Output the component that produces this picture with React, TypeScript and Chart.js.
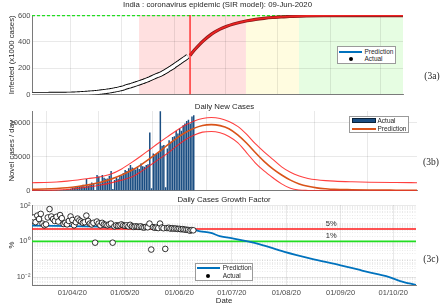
import React, { useEffect, useRef } from "react";
import { Chart, registerables } from "chart.js";

Chart.register(...registerables);

// ---------------- shared x axis: day number (day 0 = 01-Mar-2020) ----------------
const xMinDay = 8;
const xMaxDay = 227;
const monthTickDays = [31, 61, 92, 122, 153, 184, 214];
const monthTickLabels = ["01/04/20", "01/05/20", "01/06/20", "01/07/20", "01/08/20", "01/09/20", "01/10/20"];

// ---------------- (3a) cumulative infected (x1000) ----------------
const actualStartDay = 8;
const infectedActual = [
  0.04, 0.05, 0.06, 0.07, 0.08, 0.1, 0.11, 0.12, 0.14, 0.17,
  0.2, 0.25, 0.33, 0.4, 0.5, 0.56, 0.65, 0.73, 0.9, 1.0,
  1.2, 1.4, 1.6, 2.0, 2.5, 3.0, 3.6, 4.3, 5.0, 5.9,
  6.7, 7.6, 8.4, 9.2, 10.4, 11.4, 12.4, 13.4, 14.8, 16.2,
  17.8, 19.4, 20.9, 22.6, 24.3, 26.2, 28.1, 30.5, 32.8, 35.2,
  37.6, 40.5, 43.6, 46.5, 50.0, 55.0, 59.5, 63.0, 66.5, 70.5,
  74.5, 79.0, 83.5, 88.0, 92.0, 96.5, 101, 106, 111, 116,
  122, 128, 134, 140, 146, 150, 155, 162, 170, 177,
  185, 193, 201, 209, 218, 228, 236, 245, 254, 263,
  272, 281, 290,
];
const infectedPredDays = [101.3, 104, 107, 110, 113, 116, 119, 123, 127, 131, 135, 140, 145, 150, 155, 160, 170, 180, 200, 227];
const infectedPredValues = [297, 340, 382, 418, 450, 476, 498, 520, 537, 550, 561, 572, 580, 586, 590, 594, 598, 600, 601, 601];
const saturationLevel = 600;
const forecastStartDay = 101.3;
const phaseBoundaryDays = [71.2, 134.3, 165.6, 227];
const infectedTicks = [0, 200, 400, 600];

// ---------------- (3b) daily new cases ----------------
const dailyActual = [
  3, 5, 12, 16, 10, 12, 7, 22, 10, 23,
  28, 40, 60, 80, 90, 70, 100, 90, 150, 120,
  190, 220, 300, 420, 480, 530, 620, 700, 650, 880,
  600, 1700, 700, 900, 1200, 1000, 120, 2300, 2100, 1100,
  2300, 1900, 1750, 1800, 2200, 2880, 250, 1560, 1900, 1750,
  2300, 2200, 2600, 3030, 2900, 3300, 3760, 3400, 3270, 3100,
  3500, 3200, 4000, 3600, 3500, 3760, 3900, 8540, 350, 5470,
  5300, 5470, 5600, 11650, 6600, 6700, 500, 6200, 7400, 7200,
  7900, 8000, 8770, 8400, 9120, 8800, 9600, 9850, 10230, 10430,
  9850, 10900, 11070,
];
const dailyPredDays = [8, 15, 22, 28, 34, 40, 47, 53, 59, 65, 70, 75, 80, 85, 90, 95, 100, 105, 110, 115, 120, 125, 130, 135, 140, 145, 150, 155, 160, 165, 170, 175, 180, 190, 200, 215, 227];
const dailyPredMid = [200, 250, 330, 440, 620, 850, 1230, 1700, 2300, 3030, 3800, 4700, 5650, 6680, 7650, 8500, 9150, 9580, 9700, 9550, 9100, 8200, 7000, 5600, 4300, 3200, 2300, 1550, 1000, 640, 420, 290, 200, 140, 100, 75, 60];
const dailyPredUpper = [1170, 1200, 1270, 1400, 1570, 1780, 2050, 2450, 3200, 4200, 5100, 6050, 7000, 7900, 8800, 9600, 10200, 10600, 10750, 10600, 10150, 9450, 8300, 6900, 5700, 4600, 3500, 2700, 2150, 1800, 1600, 1480, 1400, 1310, 1250, 1200, 1170];
const dailyPredLower = [20, 40, 90, 180, 330, 540, 830, 1150, 1550, 2050, 2800, 3700, 4600, 5470, 6500, 7450, 8150, 8600, 8700, 8500, 7950, 7050, 5600, 4100, 2900, 1900, 1000, 350, 100, 40, 20, 10, 5, 0, 0, 0, 0];
const dailyTicks = [0, 5000, 10000];

// ---------------- (3c) daily growth factor (%) ----------------
const growthActual = [
  15, 22, 12, 28, 18, 35, 10, 8, 9, 22,
  65, 25, 18, 14, 24, 13, 30, 20, 9.5, 11,
  9, 14, 25, 16, 8, 12, 19, 15, 13, 11,
  12, 28, 14, 10, 9, 11, 0.85, 13, 10, 8,
  11, 9, 8.5, 8, 9, 10, 0.85, 7, 8, 7.5,
  8, 9, 8, 7.5, 8, 7, 8.5, 7, 6.5, 7,
  6.8, 6.5, 7, 6.2, 6.0, 6.5, 6.2, 10, 0.35, 6.3,
  5.8, 6, 5.6, 10, 6, 5.5, 0.38, 5.6, 5.8, 5.2,
  5.5, 5.2, 5.3, 5.0, 5.1, 4.8, 4.9, 4.6, 4.5, 4.4,
  4.0, 4.3, 4.2,
];
const growthPredDays = [8, 47, 75, 95, 100, 104, 110, 115, 123, 131, 138, 152, 167, 184, 195, 201, 205, 210, 218, 227];
const growthPredValues = [7.7, 6.8, 6.0, 5.0, 4.5, 3.7, 3.0, 2.0, 1.45, 1.0, 0.68, 0.26, 0.11, 0.046, 0.025, 0.018, 0.0146, 0.0114, 0.006, 0.0036];
const growthThresholds = [5, 1];
const growthThresholdLabels = ["5%", "1%"];
const thresholdLabelDay = 178.6;
const growthTicks = [0.01, 1, 100];
const growthTickLabels = ["10\u207B\u00B2", "10\u2070", "10\u00B2"];

// ---------------- styles ----------------
const FONT = "'Liberation Sans', Arial, Helvetica, sans-serif";
const SERIF = "'Liberation Serif', 'Times New Roman', serif";
const TICK_COLOR = "#4a4a4a";
const TEXT_COLOR = "#262626";
const GRID_COLOR = "rgba(0,0,0,0.11)";
const AXIS_COLOR = "#7a7a7a";
const PHASE_COLORS = ["#ffe0e0", "#fffce0", "#e6fde2"];
const BLUE = "#0072BD";
const ORANGE = "#D95319";
const BAR_BLUE = "#1b4e82";

const monthXAxis = (o: { labels: boolean; height: number; title?: string }) => ({
  type: "linear",
  min: xMinDay,
  max: xMaxDay,
  offset: false,
  afterBuildTicks: (s: any) => {
    s.ticks = monthTickDays.map((v) => ({ value: v }));
  },
  afterFit: (s: any) => {
    s.height = o.height;
  },
  ticks: {
    display: o.labels,
    autoSkip: false,
    maxRotation: 0,
    minRotation: 0,
    padding: 3,
    color: TICK_COLOR,
    font: { family: FONT, size: 7.5 },
    callback: (_v: any, i: number) => monthTickLabels[i],
  },
  grid: { color: GRID_COLOR, lineWidth: 0.8, drawTicks: false },
  border: { display: true, color: AXIS_COLOR, width: 1 },
  title: {
    display: !!o.title,
    text: o.title || "",
    color: TEXT_COLOR,
    font: { family: FONT, size: 7.8 },
    padding: { top: 0, bottom: 0 },
  },
});

const leftYAxis = (o: { title: string; ticks: number[]; labels?: string[]; min: number; max: number; type?: string }) => ({
  type: o.type || "linear",
  position: "left",
  min: o.min,
  max: o.max,
  afterBuildTicks: (s: any) => {
    s.ticks = o.ticks.map((v) => ({ value: v }));
  },
  afterFit: (s: any) => {
    s.width = 25;
  },
  ticks: {
    padding: 1.5,
    color: TICK_COLOR,
    font: { family: FONT, size: 7.5 },
    callback: (v: any, i: number) => (o.labels ? o.labels[i] : String(v)),
  },
  grid: { color: GRID_COLOR, lineWidth: 0.8, drawTicks: false },
  border: { display: true, color: AXIS_COLOR, width: 1 },
  title: {
    display: true,
    text: o.title,
    color: TEXT_COLOR,
    font: { family: FONT, size: 7.8 },
    padding: { top: 0, bottom: 0 },
  },
});

const baseOptions = {
  animation: false,
  responsive: false,
  devicePixelRatio: 1,
  events: [],
  plugins: { legend: { display: false }, tooltip: { enabled: false }, title: { display: false } },
};

const phaseShadePlugin = {
  id: "phaseShade",
  beforeDraw(chart: any) {
    const { ctx, chartArea: a, scales } = chart;
    const x = scales.x;
    ctx.save();
    for (let i = 0; i < PHASE_COLORS.length; i++) {
      const x0 = x.getPixelForValue(phaseBoundaryDays[i]);
      const x1 = x.getPixelForValue(phaseBoundaryDays[i + 1]);
      ctx.fillStyle = PHASE_COLORS[i];
      ctx.fillRect(x0, a.top, x1 - x0, a.bottom - a.top);
    }
    ctx.restore();
  },
};

const thresholdTextPlugin = {
  id: "thresholdText",
  afterDatasetsDraw(chart: any) {
    const { ctx, scales } = chart;
    ctx.save();
    ctx.font = `7.5px ${FONT}`;
    ctx.fillStyle = TEXT_COLOR;
    ctx.textAlign = "center";
    ctx.textBaseline = "bottom";
    growthThresholds.forEach((v, i) => {
      ctx.fillText(
        growthThresholdLabels[i],
        scales.x.getPixelForValue(thresholdLabelDay),
        scales.y.getPixelForValue(v) - 1.5
      );
    });
    ctx.restore();
  },
};

const pts = (xs: number[], ys: number[]) => xs.map((x, i) => ({ x, y: ys[i] }));
const seq = (start: number, ys: number[]) => ys.map((y, i) => ({ x: start + i, y }));

function Txt(p: { x: number; y: number; children: any; size?: number; family?: string; left?: boolean }) {
  return (
    <div
      style={{
        position: "absolute",
        left: p.x,
        top: p.y,
        transform: p.left ? "translate(0,-50%)" : "translate(-50%,-50%)",
        fontFamily: p.family || FONT,
        fontSize: p.size || 7.8,
        color: TEXT_COLOR,
        whiteSpace: "nowrap",
        lineHeight: 1,
      }}
    >
      {p.children}
    </div>
  );
}

function Box(p: { x: number; y: number; w: number; h: number; bg: string; border?: string; round?: boolean }) {
  return (
    <div
      style={{
        position: "absolute",
        left: p.x,
        top: p.y,
        width: p.w,
        height: p.h,
        background: p.bg,
        border: p.border || "none",
        boxSizing: "border-box",
        borderRadius: p.round ? "50%" : 0,
      }}
    />
  );
}

export default function App() {
  const refA = useRef<HTMLCanvasElement>(null);
  const refB = useRef<HTMLCanvasElement>(null);
  const refC = useRef<HTMLCanvasElement>(null);

  useEffect(() => {
    const predA = pts(infectedPredDays, infectedPredValues);
    const actualA = seq(actualStartDay, infectedActual);
    const chartA = new Chart(refA.current as HTMLCanvasElement, {
      type: "line",
      data: {
        datasets: [
          {
            label: "Forecast start",
            data: [
              { x: forecastStartDay, y: 0 },
              { x: forecastStartDay, y: 605 },
            ],
            borderColor: "#ff1a1a",
            borderWidth: 1.3,
            pointRadius: 0,
            order: 0,
          },
          {
            label: "Prediction inner",
            data: predA,
            borderColor: "#ee2222",
            borderWidth: 1.6,
            pointRadius: 0,
            cubicInterpolationMode: "monotone",
            order: 1,
          },
          {
            label: "Prediction",
            data: predA,
            borderColor: "#8a1c1c",
            borderWidth: 3.2,
            pointRadius: 0,
            cubicInterpolationMode: "monotone",
            order: 2,
          },
          {
            label: "Actual",
            data: actualA,
            borderColor: "#ffffff",
            borderWidth: 3.4,
            pointRadius: 0,
            cubicInterpolationMode: "monotone",
            order: 3,
          },
          {
            label: "Actual outline",
            data: actualA,
            borderColor: "#000000",
            borderWidth: 5.2,
            pointRadius: 0,
            cubicInterpolationMode: "monotone",
            order: 4,
          },
          {
            label: "Saturation",
            data: [
              { x: xMinDay, y: saturationLevel },
              { x: xMaxDay, y: saturationLevel },
            ],
            borderColor: "#22dd22",
            borderDash: [3, 2],
            borderWidth: 1.4,
            pointRadius: 0,
            order: 5,
          },
        ],
      },
      options: {
        ...baseOptions,
        layout: { padding: { left: 7, top: 15, right: 37, bottom: 211.5 } },
        scales: {
          x: monthXAxis({ labels: false, height: 0 }),
          y: leftYAxis({ title: "Infected (x1000 cases)", ticks: infectedTicks, min: 0, max: 605 }),
        },
      } as any,
      plugins: [phaseShadePlugin],
    } as any);

    const chartB = new Chart(refB.current as HTMLCanvasElement, {
      type: "line",
      data: {
        datasets: [
          {
            type: "line",
            label: "Upper",
            data: pts(dailyPredDays, dailyPredUpper),
            borderColor: "rgba(255,30,30,0.85)",
            borderWidth: 1.1,
            pointRadius: 0,
            cubicInterpolationMode: "monotone",
            order: 0,
          },
          {
            type: "line",
            label: "Lower",
            data: pts(dailyPredDays, dailyPredLower),
            borderColor: "rgba(255,30,30,0.85)",
            borderWidth: 1.1,
            pointRadius: 0,
            cubicInterpolationMode: "monotone",
            order: 1,
          },
          {
            type: "line",
            label: "Prediction",
            data: pts(dailyPredDays, dailyPredMid),
            borderColor: ORANGE,
            borderWidth: 1.6,
            pointRadius: 0,
            cubicInterpolationMode: "monotone",
            order: 2,
          },
          {
            type: "bar",
            label: "Actual",
            data: seq(actualStartDay, dailyActual),
            backgroundColor: BAR_BLUE,
            borderWidth: 0,
            barPercentage: 0.85,
            categoryPercentage: 1,
            order: 5,
          },
        ],
      },
      options: {
        ...baseOptions,
        layout: { padding: { left: 7, top: 111, right: 23, bottom: 115.3 } },
        scales: {
          x: monthXAxis({ labels: false, height: 0 }),
          y: leftYAxis({ title: "Novel cases / day", ticks: dailyTicks, min: 0, max: 11700 }),
        },
      } as any,
    } as any);

    const growthMin = 0.0036;
    const growthMax = 110;
    const minorTicks: number[] = [];
    for (let k = -3; k <= 2; k++) {
      for (let m = 1; m <= 9; m++) {
        const v = m * Math.pow(10, k);
        if (v >= growthMin && v <= growthMax && !growthTicks.some((t) => Math.abs(t - v) < 1e-9)) minorTicks.push(v);
      }
    }

    const chartC = new Chart(refC.current as HTMLCanvasElement, {
      type: "line",
      data: {
        datasets: [
          {
            label: "Actual",
            data: seq(actualStartDay, growthActual),
            showLine: false,
            pointRadius: 2.8,
            pointBackgroundColor: "#ffffff",
            pointBorderColor: "#000000",
            pointBorderWidth: 0.8,
            order: 0,
          },
          {
            label: "Prediction",
            data: pts(growthPredDays, growthPredValues),
            borderColor: BLUE,
            borderWidth: 1.8,
            pointRadius: 0,
            cubicInterpolationMode: "monotone",
            order: 1,
          },
          {
            label: "5%",
            data: [
              { x: xMinDay, y: growthThresholds[0] },
              { x: xMaxDay, y: growthThresholds[0] },
            ],
            borderColor: "#ff1a1a",
            borderWidth: 1.6,
            pointRadius: 0,
            order: 2,
          },
          {
            label: "1%",
            data: [
              { x: xMinDay, y: growthThresholds[1] },
              { x: xMaxDay, y: growthThresholds[1] },
            ],
            borderColor: "#22dd22",
            borderWidth: 1.6,
            pointRadius: 0,
            order: 3,
          },
        ],
      },
      options: {
        ...baseOptions,
        layout: { padding: { left: 7, top: 205, right: 24, bottom: 0 } },
        scales: {
          x: monthXAxis({ labels: true, height: 21, title: "Date" }),
          y: leftYAxis({
            type: "logarithmic",
            title: "%",
            ticks: growthTicks,
            labels: growthTickLabels,
            min: growthMin,
            max: growthMax,
          }),
          yMinor: {
            type: "logarithmic",
            position: "left",
            min: growthMin,
            max: growthMax,
            afterBuildTicks: (s: any) => {
              s.ticks = minorTicks.map((v) => ({ value: v }));
            },
            afterFit: (s: any) => {
              s.width = 0;
            },
            ticks: { display: false },
            grid: { color: "rgba(0,0,0,0.12)", lineWidth: 0.7, drawTicks: false },
            border: { display: false, dash: [1, 1.5] },
            title: { display: false },
          },
        },
      } as any,
      plugins: [thresholdTextPlugin],
    } as any);

    return () => {
      chartA.destroy();
      chartB.destroy();
      chartC.destroy();
    };
  }, []);

  const canvasStyle: React.CSSProperties = { position: "absolute", left: 0, top: 0 };

  return (
    <div style={{ position: "absolute", left: 0, top: 0, width: 440, height: 306, background: "#fff", overflow: "hidden" }}>
      <canvas ref={refA} width={440} height={306} style={canvasStyle} />
      <canvas ref={refB} width={440} height={306} style={canvasStyle} />
      <canvas ref={refC} width={440} height={306} style={canvasStyle} />

      <Txt x={217.5} y={5}>India : coronavirus epidemic (SIR model): 09-Jun-2020</Txt>
      <Txt x={224.5} y={106.7}>Daily New Cases</Txt>
      <Txt x={224} y={200}>Daily Cases Growth Factor</Txt>

      <Txt x={432} y={77.3} size={9.5} family={SERIF}>(3a)</Txt>
      <Txt x={431} y={163.3} size={9.5} family={SERIF}>(3b)</Txt>
      <Txt x={431} y={260} size={9.5} family={SERIF}>(3c)</Txt>

      {/* legend (3a) */}
      <Box x={337} y={46} w={59} h={18} bg="#fff" border="1px solid #9a9a9a" />
      <Box x={339} y={50.9} w={23} h={2} bg={BLUE} />
      <Txt x={364.5} y={51.7} size={6.5} left>Prediction</Txt>
      <Box x={349} y={57.3} w={4} h={4} bg="#000" round />
      <Txt x={364.5} y={59.3} size={6.5} left>Actual</Txt>

      {/* legend (3b) */}
      <Box x={349} y={116} w={60} h={16.5} bg="#fff" border="1px solid #9a9a9a" />
      <Box x={351.7} y={118.4} w={24.3} h={4.6} bg={BAR_BLUE} border="0.5px solid #0b2238" />
      <Txt x={377.5} y={120.7} size={6.5} left>Actual</Txt>
      <Box x={351.7} y={127.9} w={24.3} h={2} bg={ORANGE} />
      <Txt x={377.5} y={128.7} size={6.5} left>Prediction</Txt>

      {/* legend (3c) */}
      <Box x={195} y={263} w={58} h={18} bg="#fff" border="1px solid #9a9a9a" />
      <Box x={197} y={267.3} w={23} h={2} bg={BLUE} />
      <Txt x={222.7} y={268.3} size={6.5} left>Prediction</Txt>
      <Box x={206.3} y={274} w={4} h={4} bg="#000" round />
      <Txt x={222.7} y={276} size={6.5} left>Actual</Txt>
    </div>
  );
}
